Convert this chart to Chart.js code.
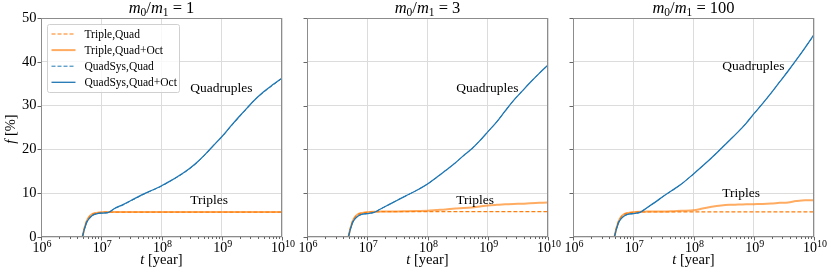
<!DOCTYPE html>
<html><head><meta charset="utf-8">
<script src="https://cdn.jsdelivr.net/npm/chart.js@4"></script>
<style>
html,body{margin:0;padding:0;background:#fff;width:830px;height:277px;overflow:hidden;}
canvas{position:absolute;top:0;}
</style></head><body>
<canvas id="c0" width="296" height="277" style="left:0px"></canvas>
<canvas id="c1" width="296" height="277" style="left:266px"></canvas>
<canvas id="c2" width="296" height="277" style="left:532px"></canvas>
<script>
// ---------- data ----------
const timeYears = [1e6, 4.79e6, 5.25e6, 5.75e6, 6.31e6, 7.08e6, 8.32e6, 1e7, 1.29e7, 1.66e7, 2.29e7, 3.16e7, 4.37e7, 6.31e7, 1e8, 1.41e8, 2.0e8, 2.88e8, 3.98e8, 5.5e8, 7.41e8, 1e9, 1.41e9, 1.95e9, 2.69e9, 3.72e9, 5.01e9, 7.08e9, 1e10];

const massRatios = ['1', '3', '100'];
const seriesLabels = ['Triple,Quad', 'Triple,Quad+Oct', 'QuadSys,Quad', 'QuadSys,Quad+Oct'];

// m0/m1 = 1
const tripleQuad1 = [0,0,2.0,3.7,4.6,5.2,5.5,5.65,5.7,5.7,5.7,5.7,5.7,5.7,5.7,5.7,5.7,5.7,5.7,5.7,5.7,5.7,5.7,5.7,5.7,5.7,5.7,5.7,5.7];
const tripleOct1  = [0,0,2.0,3.7,4.6,5.2,5.5,5.65,5.7,5.7,5.7,5.7,5.7,5.7,5.7,5.7,5.7,5.7,5.7,5.7,5.7,5.7,5.7,5.7,5.7,5.7,5.7,5.7,5.7];
const quadQuad1   = [0,0,1.8,3.4,4.2,4.9,5.3,5.45,5.55,6.5,7.3,8.3,9.3,10.4,11.6,12.8,14.0,15.5,17.1,19.0,21.0,22.8,25.2,27.4,29.5,31.6,33.1,34.7,36.2];
const quadOct1    = [0,0,1.8,3.4,4.2,4.9,5.3,5.45,5.55,6.5,7.4,8.4,9.4,10.4,11.7,12.8,14.1,15.6,17.2,19.1,21.0,22.9,25.3,27.5,29.6,31.6,33.2,34.8,36.3];

// m0/m1 = 3
const tripleQuad2 = [0,0,2.0,3.7,4.6,5.2,5.5,5.65,5.75,5.8,5.8,5.8,5.8,5.8,5.8,5.8,5.8,5.8,5.8,5.8,5.8,5.8,5.8,5.8,5.8,5.8,5.8,5.8,5.8];
const tripleOct2  = [0,0,2.0,3.7,4.6,5.2,5.5,5.65,5.75,5.8,5.85,5.85,5.9,5.95,6.0,6.15,6.3,6.5,6.6,6.75,6.95,7.2,7.35,7.45,7.55,7.6,7.7,7.8,7.9];
const quadQuad2   = [0,0,1.8,3.4,4.2,4.8,5.2,5.35,5.6,6.4,7.4,8.4,9.4,10.5,12.1,13.6,15.2,16.9,18.6,20.2,22.0,24.0,26.3,28.8,31.2,33.3,35.2,37.3,39.2];
const quadOct2    = [0,0,1.8,3.4,4.2,4.8,5.2,5.35,5.6,6.4,7.4,8.4,9.4,10.5,12.1,13.6,15.2,16.9,18.6,20.2,22.0,24.0,26.3,28.8,31.2,33.3,35.2,37.3,39.3];

// m0/m1 = 100
const tripleQuad3 = [0,0,2.0,3.7,4.6,5.2,5.5,5.65,5.75,5.75,5.75,5.75,5.75,5.75,5.75,5.75,5.75,5.75,5.75,5.75,5.75,5.75,5.75,5.75,5.75,5.75,5.75,5.75,5.75];
const tripleOct3  = [0,0,2.0,3.7,4.6,5.2,5.5,5.65,5.75,5.8,5.85,5.85,5.9,6.0,6.1,6.5,6.9,7.2,7.35,7.4,7.45,7.5,7.55,7.65,7.8,7.9,8.2,8.4,8.4];
const quadQuad3   = [0,0,1.8,3.4,4.2,4.8,5.2,5.35,5.6,6.6,7.9,9.3,10.6,12.1,14.4,16.2,18.1,20.2,22.1,24.0,25.9,28.1,30.5,32.9,35.4,37.9,40.3,43.2,46.1];
const quadOct3    = [0,0,1.8,3.4,4.2,4.8,5.2,5.35,5.6,6.6,7.9,9.3,10.6,12.1,14.4,16.2,18.1,20.2,22.1,24.0,25.9,28.1,30.5,32.9,35.4,37.9,40.3,43.2,46.2];

const xTicks = [1e6, 1e7, 1e8, 1e9, 1e10];
const yTicks = [0, 10, 20, 30, 40, 50];

// annotation anchors (data coordinates)
const labelTime = 3e8;
const quadLabelF = [34, 34, 39];
const tripLabelF = [8.4, 8.4, 10];

// ---------- styling ----------
const FF = '"Liberation Serif","DejaVu Serif","Times New Roman",serif';
const ORANGE = '#ff7f0e';
const ORANGE_SOFT = 'rgba(255,127,14,0.65)';
const BLUE = '#1f77b4';
const GRID = '#dcdcdc';
const SPINE = '#8c8c8c';
const TICK = '#555555';
const DASH = [4, 2];

function toXY(arr) { return timeYears.map((t, i) => ({x: t, y: arr[i]})); }

function drawPieces(ctx, pieces, cx, baseY, align) {
  let total = 0;
  pieces.forEach(p => { ctx.font = p.font; p.w = ctx.measureText(p.t).width; total += p.w; });
  let x = align === 'center' ? cx - total / 2 : cx;
  pieces.forEach(p => { ctx.font = p.font; ctx.fillText(p.t, x, baseY + (p.dy || 0)); x += p.w; });
}

function decorPlugin(idx, showLegend, showYLabel) {
  return {
    id: 'decor' + idx,
    afterDraw(chart) {
      const ctx = chart.ctx;
      const {left, right, top, bottom} = chart.chartArea;
      const xs = chart.scales.x, ys = chart.scales.y;
      ctx.save();
      // annotations
      ctx.fillStyle = '#000';
      ctx.font = '13.5px ' + FF;
      ctx.textAlign = 'left';
      ctx.textBaseline = 'middle';
      ctx.fillText('Quadruples', xs.getPixelForValue(labelTime), ys.getPixelForValue(quadLabelF[idx]));
      ctx.fillText('Triples', xs.getPixelForValue(labelTime), ys.getPixelForValue(tripLabelF[idx]));

      // spines
      ctx.strokeStyle = SPINE; ctx.lineWidth = 1;
      ctx.strokeRect(Math.round(left) + 0.5, Math.round(top) + 0.5, Math.round(right - left) - 1, Math.round(bottom - top) - 1);

      // ticks
      ctx.strokeStyle = TICK; ctx.lineWidth = 0.9;
      ctx.beginPath();
      xTicks.forEach(v => { const px = Math.round(xs.getPixelForValue(v)) + 0.5; ctx.moveTo(px, bottom); ctx.lineTo(px, bottom + 3.5); });
      for (let e = 6; e < 10; e++) for (let m = 2; m <= 9; m++) {
        const px = Math.round(xs.getPixelForValue(m * Math.pow(10, e))) + 0.5;
        ctx.moveTo(px, bottom); ctx.lineTo(px, bottom + 2);
      }
      yTicks.forEach(v => { const py = Math.round(ys.getPixelForValue(v)) + 0.5; ctx.moveTo(left, py); ctx.lineTo(left - 3.5, py); });
      ctx.stroke();

      // x tick labels 10^n
      ctx.fillStyle = '#000';
      ctx.textAlign = 'left';
      ctx.textBaseline = 'alphabetic';
      xTicks.forEach(v => {
        const ex = String(Math.round(Math.log10(v)));
        drawPieces(ctx, [
          {t: '10', font: '14px ' + FF},
          {t: ex, font: '10px ' + FF, dy: -5.5}
        ], xs.getPixelForValue(v) + 1, bottom + 15, 'center');
      });

      // x axis title
      const cx = (left + right) / 2;
      drawPieces(ctx, [
        {t: 't', font: 'italic 14.5px ' + FF},
        {t: ' [year]', font: '14.5px ' + FF}
      ], cx, bottom + 27, 'center');

      // panel title m0/m1 = r
      drawPieces(ctx, [
        {t: 'm', font: 'italic 16.5px ' + FF},
        {t: '0', font: '11.5px ' + FF, dy: 2.5},
        {t: '/', font: '16.5px ' + FF},
        {t: 'm', font: 'italic 16.5px ' + FF},
        {t: '1', font: '11.5px ' + FF, dy: 2.5},
        {t: ' = ' + massRatios[idx], font: '16.5px ' + FF}
      ], cx, top - 5, 'center');

      // y axis title
      if (showYLabel) {
        ctx.save();
        ctx.translate(11.5, (top + bottom) / 2 + 1.5);
        ctx.rotate(-Math.PI / 2);
        ctx.textBaseline = 'middle';
        drawPieces(ctx, [
          {t: 'f', font: 'italic 14.5px ' + FF},
          {t: ' [%]', font: '14.5px ' + FF}
        ], 0, 0, 'center');
        ctx.restore();
      }

      // legend
      if (showLegend) {
        const bx = left + 6.5, by = top + 6.5, bw = 132, bh = 68;
        ctx.fillStyle = 'rgba(255,255,255,0.8)';
        ctx.strokeStyle = '#d0d0d0'; ctx.lineWidth = 1;
        ctx.beginPath();
        if (ctx.roundRect) ctx.roundRect(bx, by, bw, bh, 2); else ctx.rect(bx, by, bw, bh);
        ctx.fill(); ctx.stroke();
        chart.data.datasets.forEach((ds, i) => {
          const ry = by + 9.5 + i * 16.1;
          ctx.strokeStyle = ds.borderColor;
          ctx.lineWidth = ds.borderWidth;
          ctx.setLineDash(ds.borderDash || []);
          ctx.beginPath(); ctx.moveTo(bx + 4, ry); ctx.lineTo(bx + 28, ry); ctx.stroke();
          ctx.setLineDash([]);
          ctx.fillStyle = '#000';
          ctx.font = '11.5px ' + FF;
          ctx.textBaseline = 'middle';
          ctx.textAlign = 'left';
          ctx.fillText(ds.label, bx + 37, ry + 0.5);
        });
      }
      ctx.restore();
    }
  };
}

function makeChart(idx, sets) {
  const showY = idx === 0;
  return new Chart(document.getElementById('c' + idx), {
    type: 'line',
    data: {
      datasets: [
        {label: seriesLabels[0], data: toXY(sets[0]), borderColor: ORANGE, borderWidth: 1.2, borderDash: DASH, order: 3},
        {label: seriesLabels[1], data: toXY(sets[1]), borderColor: ORANGE_SOFT, borderWidth: 2, order: 2},
        {label: seriesLabels[2], data: toXY(sets[2]), borderColor: BLUE, borderWidth: 1, borderDash: DASH, order: 1},
        {label: seriesLabels[3], data: toXY(sets[3]), borderColor: BLUE, borderWidth: 1.3, order: 0}
      ]
    },
    options: {
      responsive: false,
      animation: false,
      devicePixelRatio: 1,
      layout: {padding: {left: 0, right: 14, top: 18, bottom: 0}},
      elements: {point: {radius: 0}, line: {cubicInterpolationMode: 'monotone', fill: false}},
      plugins: {legend: {display: false}, tooltip: {enabled: false}, title: {display: false}},
      scales: {
        x: {
          type: 'logarithmic', min: 1e6, max: 1e10,
          afterBuildTicks: s => { s.ticks = xTicks.map(v => ({value: v})); },
          afterFit: s => { s.height = 40; s.paddingLeft = 0; s.paddingRight = 0; },
          grid: {color: GRID, drawTicks: false, lineWidth: 1},
          border: {display: false},
          ticks: {display: false}
        },
        y: {
          type: 'linear', min: 0, max: 50,
          afterBuildTicks: s => { s.ticks = yTicks.map(v => ({value: v})); },
          afterFit: s => { s.width = 41; s.paddingTop = 0; s.paddingBottom = 0; },
          grid: {color: GRID, drawTicks: false, lineWidth: 1},
          border: {display: false},
          ticks: {display: showY, padding: 4.5, color: '#000', font: {family: FF, size: 14.5}, callback: v => String(v)}
        }
      }
    },
    plugins: [decorPlugin(idx, idx === 0, showY)]
  });
}

makeChart(0, [tripleQuad1, tripleOct1, quadQuad1, quadOct1]);
makeChart(1, [tripleQuad2, tripleOct2, quadQuad2, quadOct2]);
makeChart(2, [tripleQuad3, tripleOct3, quadQuad3, quadOct3]);
</script>
</body></html>
